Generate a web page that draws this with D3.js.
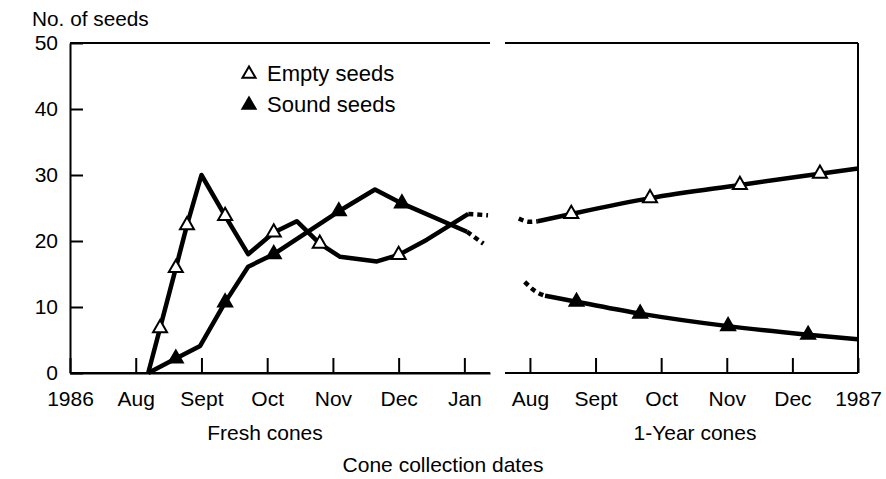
<!DOCTYPE html>
<html>
<head>
<meta charset="utf-8">
<script src="https://cdn.jsdelivr.net/npm/d3@7/dist/d3.min.js"></script>
<style>
  body { margin: 0; background: #fff; }
  svg { font-family: "Liberation Sans", Arial, Helvetica, sans-serif; }
</style>
</head>
<body>
<svg id="chart" width="886" height="479"></svg>
<script>
// month positions: left panel 0 = "1986" (Jul), right panel 0 = Aug of 2nd year
const freshTicks = ['1986', 'Aug', 'Sept', 'Oct', 'Nov', 'Dec', 'Jan'];
const yearTicks = ['Aug', 'Sept', 'Oct', 'Nov', 'Dec', '1987'];
const yTicks = [0, 10, 20, 30, 40, 50];

// [month, seeds, hasMarker]
const freshEmpty = [[1.19, 0, 0], [1.37, 6.8, 1], [1.61, 15.9, 1], [1.78, 22.4, 1], [2.0, 30, 0],
  [2.36, 23.8, 1], [2.71, 18, 0], [3.1, 21.3, 1], [3.45, 23, 0], [3.8, 19.6, 1], [4.11, 17.6, 0],
  [4.67, 16.9, 0], [5.0, 17.9, 1], [5.43, 20.2, 0], [6.06, 24.1, 0]];
const freshEmptyDot = [[6.06, 24.1], [6.36, 23.9]];
const freshSound = [[1.19, 0, 0], [1.61, 2.2, 1], [1.98, 4.1, 0], [2.36, 10.7, 1], [2.71, 16.1, 0],
  [3.1, 18, 1], [4.09, 24.5, 1], [4.64, 27.8, 0], [5.05, 25.7, 1], [6.04, 21.4, 0]];
const freshSoundDot = [[6.04, 21.4], [6.29, 19.6]];

const yearEmptyDot = [[-0.17, 23.4], [0.0, 22.9], [0.12, 23.0]];
const yearEmpty = [[0.12, 23.0, 0], [0.63, 24.1, 1], [1.83, 26.5, 1], [3.2, 28.5, 1], [4.42, 30.2, 1], [5.0, 31.0, 0]];
const yearSoundDot = [[-0.08, 13.8], [0.08, 12.4], [0.23, 11.7]];
const yearSound = [[0.23, 11.7, 0], [0.71, 10.8, 1], [1.68, 9.0, 1], [3.02, 7.1, 1], [4.24, 5.8, 1], [5.0, 5.1, 0]];

const svg = d3.select('#chart');
const fs = 21;

const y = d3.scaleLinear().domain([0, 50]).range([373, 43]);
const xL = d3.scaleLinear().domain([0, 6.39]).range([70, 490]);
const xR = d3.scaleLinear().domain([-0.38, 5]).range([505, 858]);

// frame lines
const frame = svg.append('g').attr('stroke', '#000').attr('stroke-width', 2).attr('fill', 'none');
[[xL, 0, 6.39], [xR, -0.38, 5]].forEach(([sx, a, b]) => {
  frame.append('line').attr('x1', sx(a)).attr('x2', sx(b)).attr('y1', y(50)).attr('y2', y(50));
  frame.append('line').attr('x1', sx(a)).attr('x2', sx(b)).attr('y1', y(0)).attr('y2', y(0));
});
frame.append('line').attr('x1', xR(5)).attr('x2', xR(5)).attr('y1', y(50)).attr('y2', y(0));

// y axis
const yAxis = svg.append('g')
  .attr('transform', `translate(${xL(0)},0)`)
  .call(d3.axisLeft(y).tickValues(yTicks).tickSizeInner(-13).tickSizeOuter(0).tickPadding(12));

// x axes
const xAxisL = svg.append('g')
  .attr('transform', `translate(0,${y(0)})`)
  .call(d3.axisBottom(xL).tickValues(d3.range(freshTicks.length))
    .tickFormat(i => freshTicks[i]).tickSizeInner(-15).tickSizeOuter(0).tickPadding(18));
const xAxisR = svg.append('g')
  .attr('transform', `translate(0,${y(0)})`)
  .call(d3.axisBottom(xR).tickValues(d3.range(yearTicks.length))
    .tickFormat(i => yearTicks[i]).tickSizeInner(-15).tickSizeOuter(0).tickPadding(18));

[yAxis, xAxisL, xAxisR].forEach(g => {
  g.select('.domain').attr('stroke-width', 2);
  g.selectAll('.tick line').attr('stroke-width', 2);
  g.selectAll('.tick text').attr('font-size', fs).attr('fill', '#000').attr('font-family', null);
  g.attr('font-family', null).attr('font-size', null);
});
xAxisR.select('.domain').remove();

// lines
function drawLine(data, sx, dotted, curve) {
  const line = d3.line().x(d => sx(d[0])).y(d => y(d[1])).curve(curve);
  svg.append('path')
    .datum(data)
    .attr('d', line)
    .attr('fill', 'none')
    .attr('stroke', '#000')
    .attr('stroke-width', 4.5)
    .attr('stroke-linejoin', 'round')
    .attr('stroke-dasharray', dotted ? '5,4' : null);
}

drawLine(freshEmpty, xL, false, d3.curveLinear);
drawLine(freshEmptyDot, xL, true, d3.curveLinear);
drawLine(freshSound, xL, false, d3.curveLinear);
drawLine(freshSoundDot, xL, true, d3.curveLinear);
drawLine(yearEmptyDot, xR, true, d3.curveMonotoneX);
drawLine(yearEmpty, xR, false, d3.curveMonotoneX);
drawLine(yearSoundDot, xR, true, d3.curveMonotoneX);
drawLine(yearSound, xR, false, d3.curveMonotoneX);

// markers
const tri = d3.symbol().type(d3.symbolTriangle).size(85);
function drawMarkers(data, sx, filled) {
  svg.append('g').selectAll('path')
    .data(data.filter(d => d[2]))
    .join('path')
    .attr('d', tri)
    .attr('transform', d => `translate(${sx(d[0])},${y(d[1])})`)
    .attr('fill', filled ? '#000' : '#fff')
    .attr('stroke', '#000')
    .attr('stroke-width', 2);
}
drawMarkers(freshEmpty, xL, false);
drawMarkers(freshSound, xL, true);
drawMarkers(yearEmpty, xR, false);
drawMarkers(yearSound, xR, true);

// legend
const legend = svg.append('g');
[['Empty seeds', false, 81], ['Sound seeds', true, 112]].forEach(([label, filled, by]) => {
  legend.append('path')
    .attr('d', d3.symbol().type(d3.symbolTriangle).size(75))
    .attr('transform', `translate(249,${by - 7})`)
    .attr('fill', filled ? '#000' : '#fff')
    .attr('stroke', '#000')
    .attr('stroke-width', 2);
  legend.append('text').attr('x', 267).attr('y', by).attr('font-size', 22).text(label);
});

// titles
svg.append('text').attr('x', 32).attr('y', 26).attr('font-size', 20.8).text('No. of seeds');
svg.append('text').attr('x', 265).attr('y', 440).attr('text-anchor', 'middle').attr('font-size', fs).text('Fresh cones');
svg.append('text').attr('x', 695).attr('y', 440).attr('text-anchor', 'middle').attr('font-size', fs).text('1-Year cones');
svg.append('text').attr('x', 443).attr('y', 472).attr('text-anchor', 'middle').attr('font-size', fs).text('Cone collection dates');
</script>
</body>
</html>
